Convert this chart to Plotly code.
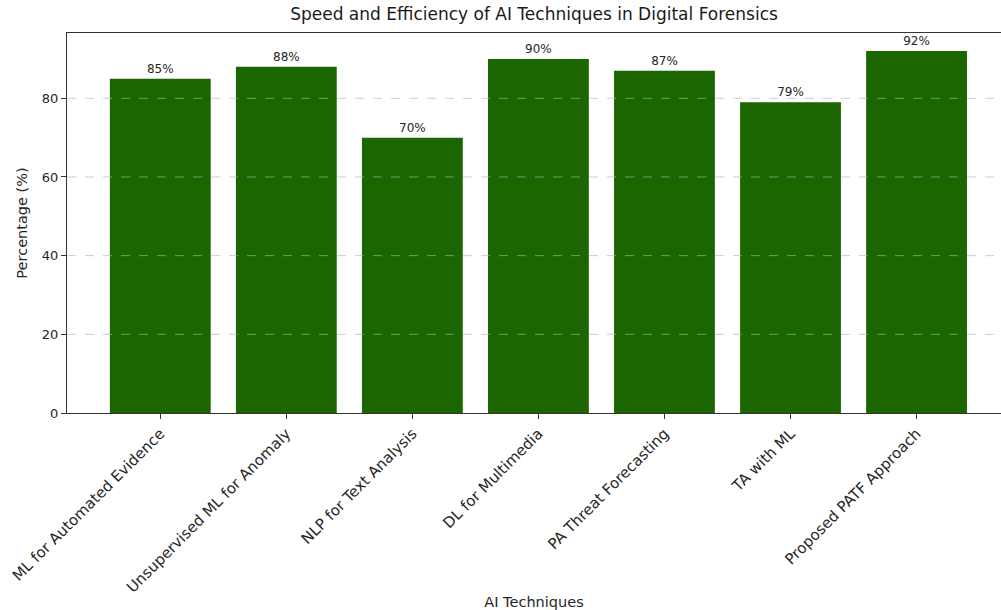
import plotly.graph_objects as go

techniques = [
    "ML for Automated Evidence",
    "Unsupervised ML for Anomaly",
    "NLP for Text Analysis",
    "DL for Multimedia",
    "PA Threat Forecasting",
    "TA with ML",
    "Proposed PATF Approach",
]
percentages = [85, 88, 70, 90, 87, 79, 92]
y_ticks = [0, 20, 40, 60, 80]

FONT = "DejaVu Sans"
BAR_COLOR = "#1b6600"

fig = go.Figure()
fig.add_trace(go.Bar(
    x=list(range(len(techniques))),
    y=percentages,
    width=0.8,
    marker=dict(color=BAR_COLOR, line=dict(width=0)),
    text=[f"{v}%" for v in percentages],
    textposition="outside",
    textfont=dict(family=FONT, size=12, color="#262626"),
    cliponaxis=False,
    hoverinfo="skip",
))

# dashed grid drawn above the bars, as in the reference
for yv in y_ticks[1:]:
    fig.add_hline(y=yv, layer="above",
                  line=dict(color="rgba(176,176,176,0.65)", width=1, dash="dash"))

fig.update_layout(
    width=1001,
    height=610,
    margin=dict(l=67, r=0, t=33, b=197),
    paper_bgcolor="white",
    plot_bgcolor="white",
    showlegend=False,
    font=dict(family=FONT, color="#262626"),
    title=dict(
        text="Speed and Efficiency of AI Techniques in Digital Forensics",
        x=0.5, xanchor="center", xref="paper",
        y=1, yref="container", yanchor="top", pad=dict(t=8),
        font=dict(family=FONT, size=17, color="#1a1a1a"),
    ),
)

fig.update_xaxes(
    automargin=False,
    range=[-0.74, 6.67],
    tickmode="array",
    tickvals=list(range(len(techniques))),
    ticktext=techniques,
    tickangle=-45,
    tickfont=dict(family=FONT, size=15, color="#262626"),
    ticks="outside", ticklen=5, tickwidth=1, tickcolor="#333",
    showline=True, linecolor="#333", linewidth=1, mirror=True,
    showgrid=False, zeroline=False,
    title=dict(text="AI Techniques", font=dict(family=FONT, size=14.5, color="#262626"), standoff=10),
)

fig.update_yaxes(
    automargin=False,
    range=[0, 96.6],
    tickmode="array",
    tickvals=y_ticks,
    tickfont=dict(family=FONT, size=13, color="#262626"),
    ticks="outside", ticklen=5, tickwidth=1, tickcolor="#333",
    showline=True, linecolor="#333", linewidth=1,
    showgrid=False,
    zeroline=False,
    layer="above traces",
    title=dict(text="Percentage (%)", font=dict(family=FONT, size=14.5, color="#262626"), standoff=10),
)

fig.write_html("out.html")
